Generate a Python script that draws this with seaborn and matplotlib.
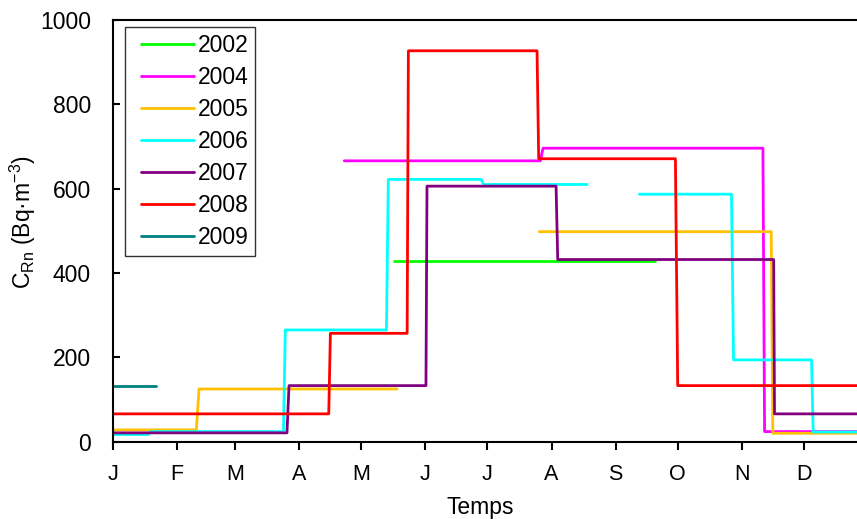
import numpy as np
import pandas as pd
import matplotlib
matplotlib.use("Agg")
import matplotlib.pyplot as plt
import seaborn as sns

# Radon concentration per year, day of year vs C_Rn (Bq/m3); nan = gap in the record
years = ["2002", "2004", "2005", "2006", "2007", "2008", "2009"]

days_2002 = [135.7, 262.2]
vals_2002 = [428, 428]

days_2004 = [111.8, 206.6, 207.9, 314.2, 315.0, 365]
vals_2004 = [666, 666, 696, 696, 24, 24]

days_2005 = [0, 40.3, 41.6, 137.3, np.nan, 206.1, 318.2, 319.0, 365]
vals_2005 = [28, 28, 125, 125, np.nan, 498, 498, 20, 20]

days_2006 = [0, 17.2, 18.0, 82.4, 83.3, 132.2, 133.1, 178.0, 179.2, 229.2,
             np.nan, 254.5, 299.0, 300.0, 337.7, 338.5, 365]
vals_2006 = [17, 17, 24, 24, 265, 265, 622, 622, 610, 610,
             np.nan, 587, 587, 194, 194, 23, 23]

days_2007 = [0, 84.1, 85.1, 151.3, 151.8, 214.2, 215.0, 319.4, 319.8, 365]
vals_2007 = [21, 21, 133, 133, 606, 606, 432, 432, 66, 66]

days_2008 = [0, 104.3, 105.1, 142.2, 142.8, 205.0, 205.8, 271.9, 273.0, 365]
vals_2008 = [66, 66, 257, 257, 927, 927, 671, 671, 133, 133]

days_2009 = [0, 20.8]
vals_2009 = [133, 133]

month_starts = [0, 31, 59, 90, 120, 151, 181, 212, 243, 273, 304, 334]
month_labels = ["J", "F", "M", "A", "M", "J", "J", "A", "S", "O", "N", "D"]

colors = {"2002": "#00ff00", "2004": "#ff00ff", "2005": "#ffc000", "2006": "#00ffff",
          "2007": "#800080", "2008": "#ff0000", "2009": "#008080"}

series = {"2002": (days_2002, vals_2002), "2004": (days_2004, vals_2004),
          "2005": (days_2005, vals_2005), "2006": (days_2006, vals_2006),
          "2007": (days_2007, vals_2007), "2008": (days_2008, vals_2008),
          "2009": (days_2009, vals_2009)}

# long table, one segment id per continuous piece
rows = []
seg = 0
for yr in years:
    seg += 1
    for d, v in zip(*series[yr]):
        if np.isnan(v):
            seg += 1
            continue
        rows.append({"day": d, "val": v, "year": yr, "seg": seg})
df = pd.DataFrame(rows)

sns.set_style("ticks", rc={"text.color": "black", "axes.labelcolor": "black",
                           "xtick.color": "black", "ytick.color": "black",
                           "axes.edgecolor": "black"})
plt.rcParams["font.family"] = ["Liberation Sans", "DejaVu Sans"]

fig = plt.figure(figsize=(8.57, 5.19), dpi=100)
ax = fig.add_axes([113 / 857, 1 - 441.7 / 519, (868 - 113) / 857, (441.7 - 20) / 519])

sns.lineplot(data=df, x="day", y="val", hue="year", units="seg", estimator=None,
             sort=False, palette=colors, hue_order=years, linewidth=2, ax=ax)

ax.set_xlim(0, 365)
ax.set_ylim(0, 1000)
ax.set_xticks(month_starts)
ax.set_xticklabels(month_labels)
ax.set_yticks([0, 200, 400, 600, 800, 1000])
ax.tick_params(axis="x", direction="out", length=6, width=1.5, labelsize=15.5, pad=10)
ax.tick_params(axis="y", direction="in", length=5, width=1.5, labelsize=16.5, pad=16)
for s in ["left", "bottom", "top"]:
    ax.spines[s].set_linewidth(1.5)
ax.spines["right"].set_visible(False)

ax.set_xlabel("Temps", fontsize=16.5)
ax.xaxis.set_label_coords(0.486, -0.128)
ax.set_ylabel("C$_{\\mathregular{Rn}}$ (Bq·m$^{\\mathregular{-3}}$)", fontsize=16.5)
ax.yaxis.set_label_coords(-0.1, 0.52)

handles, labels = ax.get_legend_handles_labels()
leg = ax.legend(handles, labels, loc="upper left", bbox_to_anchor=(0.016, 0.983),
                borderaxespad=0, fontsize=16.5, handlelength=2.7, labelspacing=0.39,
                handletextpad=0.17, borderpad=0.3, frameon=True, fancybox=False)
leg.get_frame().set_edgecolor("black")
leg.get_frame().set_linewidth(1.0)
# handle lines start a bit in from the frame, as in the original
for ln in leg.get_lines():
    xd = np.asarray(ln.get_xdata(), dtype=float)
    ln.set_xdata(np.linspace(xd[0] + 6.5, xd[-1], len(xd)))

fig.savefig("out.png", dpi=100)
